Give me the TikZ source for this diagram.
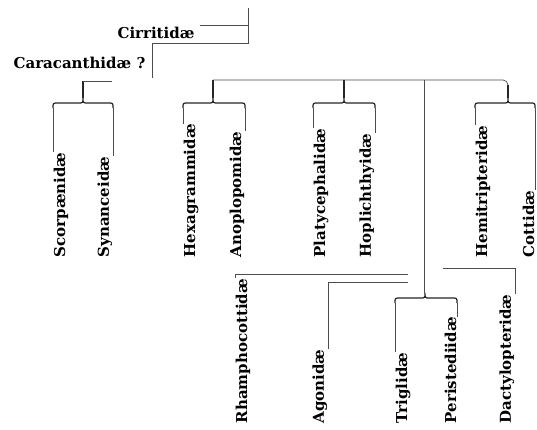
\documentclass[tikz,border=0pt]{standalone}
\usepackage{fontspec}
\newfontfamily\famfont{DejaVu Serif}
\usetikzlibrary{positioning,calc}

% brace over two families: left label, right label, cusp
\newcommand{\famclasp}[3]{%
  \draw[clasp] ($(#1.north east |- #3)+(0,10)$)
    .. controls ($(#1.north east |- #3)+(0,5)$) .. ($(#1.north east |- #3)+(5,5)$)
    -- ($(#3)+(-5,5)$) .. controls ($(#3)+(0,5)$) .. (#3)
    .. controls ($(#3)+(0,5)$) .. ($(#3)+(5,5)$)
    -- ($(#2.south east |- #3)+(-5,5)$)
    .. controls ($(#2.south east |- #3)+(0,5)$) .. ($(#2.south east |- #3)+(0,10)$);
  \draw[twig] ($(#1.north east |- #3)+(0,10)$) -- (#1.north east);
  \draw[twig] ($(#2.south east |- #3)+(0,10)$) -- (#2.south east);
}

\begin{document}
\begin{tikzpicture}[
  x=1pt, y=-1pt,
  fam/.style={font=\famfont\fontsize{15}{17}\selectfont\bfseries, inner sep=0.5pt},
  famup/.style={fam, rotate=90},
  twig/.style={draw=black!70, line width=0.7pt},
  clasp/.style={draw=black!85, line width=1.2pt}
]
\useasboundingbox[fill=white] (0,0) rectangle (537,429);

% higher groups
\node[fam, anchor=base] (cirr) at (156,38) {Cirritidæ};
\node[fam, anchor=base east] (carac) at (146,68) {Caracanthidæ ?};
\coordinate (top) at (248,8);
\coordinate (fork) at (248,43);
\coordinate (caracstem) at (152,78);
\coordinate (cirrline) at (200,25);
\draw[twig] (top) -- (fork) -| (caracstem);
\draw[twig] (cirrline) -- (cirrline -| top);

% upper row
\node[famup, anchor=north west] (scorp) at (53,258) {Scorpænidæ};
\node[famup, anchor=south west] (synan) at (113,258) {Synanceidæ};
\node[famup, anchor=north west] (hexa) at (183,258) {Hexagrammidæ};
\node[famup, anchor=south west] (anoplo) at (245,258) {Anoplopomidæ};
\node[famup, anchor=north west] (platy) at (313,258) {Platycephalidæ};
\node[famup, anchor=south west] (hoplich) at (375,258) {Hoplichthyidæ};
\node[famup, anchor=north west] (hemi) at (475,258) {Hemitripteridæ};
\node[famup, anchor=south west] (cott) at (535,258) {Cottidæ};

% lower row
\node[famup, anchor=north west] (rhampho) at (235,424) {Rhamphocottidæ};
\node[famup, anchor=south west] (agon) at (328,424) {Agonidæ};
\node[famup, anchor=north west] (trig) at (395,424) {Triglidæ};
\node[famup, anchor=south west] (perist) at (457,424) {Peristediidæ};
\node[famup, anchor=south west] (dactylo) at (515,424) {Dactylopteridæ};

% braces
\coordinate (c1) at (83,98);
\coordinate (c2) at (213,98);
\coordinate (c3) at (344,98);
\coordinate (c4) at (508,98);
\coordinate (c5) at (425,293);
\famclasp{scorp}{synan}{c1}
\famclasp{hexa}{anoplo}{c2}
\famclasp{platy}{hoplich}{c3}
\famclasp{hemi}{cott}{c4}
\famclasp{trig}{perist}{c5}

% stems and cross lines
\coordinate (s1) at (83,81);
\coordinate (s1end) at (112,81);
\coordinate (s2) at (213,80);
\coordinate (s3) at (344,80);
\coordinate (s4) at (508,80);
\coordinate (trunk) at (424,80);
\draw[clasp] (c1) -- (s1);
\draw[twig, rounded corners=3pt] (s1) -- (s1end);
\draw[clasp] (c2) -- (s2);
\draw[clasp] (c3) -- (s3);
\draw[twig, rounded corners=5pt] (s2) -- (s4) -- ($(s4)+(0,8)$);
\draw[clasp] ($(s4)+(0,5)$) -- (c4);
\draw[twig] (trunk) -- (trunk |- c5);

\coordinate (r1) at (408,274);
\coordinate (r2) at (408,282);
\coordinate (d1) at (443,268);
\draw[twig] (r1) -| (rhampho.north east);
\draw[twig] (r2) -| (agon.south east);
\draw[twig] (d1) -| (dactylo.south east);
\end{tikzpicture}
\end{document}
